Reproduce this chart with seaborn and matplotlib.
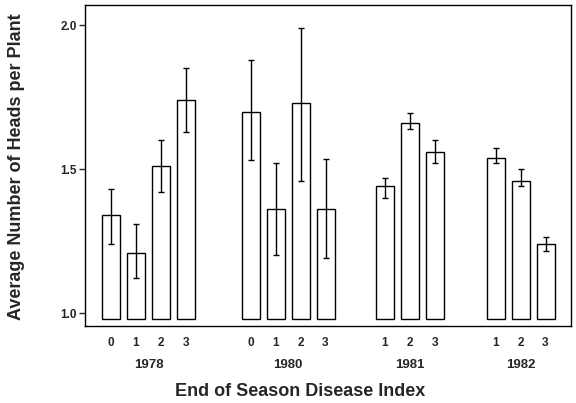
import numpy as np
import pandas as pd
import matplotlib
matplotlib.use("Agg")
import matplotlib.pyplot as plt
import matplotlib.transforms as mtransforms
import seaborn as sns

# ---- data ----
years = ["1978", "1978", "1978", "1978",
         "1980", "1980", "1980", "1980",
         "1981", "1981", "1981",
         "1982", "1982", "1982"]
disease_index = ["0", "1", "2", "3",
                 "0", "1", "2", "3",
                 "1", "2", "3",
                 "1", "2", "3"]
heads_mean = [1.34, 1.21, 1.51, 1.74,
              1.70, 1.36, 1.73, 1.36,
              1.44, 1.66, 1.56,
              1.54, 1.46, 1.24]
err_low = [1.24, 1.12, 1.42, 1.63,
           1.53, 1.20, 1.46, 1.19,
           1.40, 1.64, 1.52,
           1.52, 1.44, 1.215]
err_high = [1.43, 1.31, 1.60, 1.85,
            1.88, 1.52, 1.99, 1.535,
            1.47, 1.695, 1.60,
            1.575, 1.50, 1.265]

# layout: where each year group starts on the x axis
group_start = {"1978": 0.0, "1980": 5.58, "1981": 10.95, "1982": 15.38}
bar_base = 0.978

rows = []
count = {}
for y, d, m, lo, hi in zip(years, disease_index, heads_mean, err_low, err_high):
    k = count.get(y, 0)
    count[y] = k + 1
    rows.append({"year": y, "index": d, "mean": m, "lo": lo, "hi": hi,
                 "pos": group_start[y] + k})
df = pd.DataFrame(rows)

# ---- plot ----
sns.set_theme(style="white")
plt.rcParams["font.family"] = ["Liberation Sans", "DejaVu Sans"]

fig = plt.figure(figsize=(5.76, 4.03), dpi=100)
ax = fig.add_axes([85 / 576, 77 / 403, 486 / 576, 321 / 403])

sns.barplot(data=df, x="pos", y="mean", native_scale=True, orient="x",
            width=0.72, color="white", edgecolor="black", linewidth=1.0,
            errorbar=None, ax=ax)

# bars start just under 1.0, like the original
for p in ax.patches:
    top = p.get_y() + p.get_height()
    p.set_y(bar_base)
    p.set_height(top - bar_base)

ax.errorbar(df["pos"], df["mean"],
            yerr=[df["mean"] - df["lo"], df["hi"] - df["mean"]],
            fmt="none", ecolor="black", elinewidth=1.0, capsize=2.2, capthick=1.0)

ax.set_xlim(-1.04, 18.4)
ax.set_ylim(0.955, 2.07)
ax.set_yticks([1.0, 1.5, 2.0])
ax.set_yticklabels(["1.0", "1.5", "2.0"], fontsize=8.5, fontweight="bold")
ax.set_xticks(df["pos"])
ax.set_xticklabels(df["index"], fontsize=8.5, fontweight="bold")
ax.tick_params(axis="x", length=0, pad=8)
ax.tick_params(axis="y", direction="out", length=4, width=1, left=True, pad=2)

for s in ax.spines.values():
    s.set_visible(True)
    s.set_color("black")
    s.set_linewidth(1.0)

ax.set_xlabel("")
ax.set_ylabel("Average Number of Heads per Plant", fontsize=13, fontweight="bold")
ax.yaxis.set_label_coords(-0.123, 0.495)

# year labels under each group
trans = mtransforms.blended_transform_factory(ax.transData, ax.transAxes)
for y in group_start:
    center = df.loc[df["year"] == y, "pos"].mean()
    ax.text(center, -39 / 321, y, transform=trans, ha="center", va="center",
            fontsize=9.5, fontweight="bold")

fig.text(300 / 576, 1 - 392 / 403, "End of Season Disease Index",
         ha="center", va="center", fontsize=13, fontweight="bold")

fig.savefig("out.png", dpi=100)
